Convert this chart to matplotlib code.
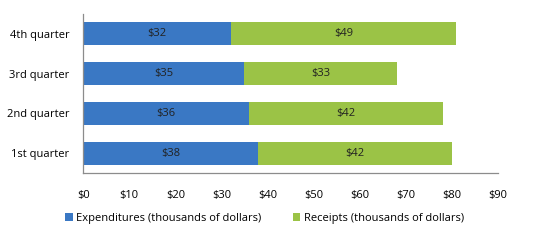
import matplotlib
matplotlib.use("Agg")
import matplotlib.pyplot as plt
import numpy as np

# === Data ===
quarters = ['1st quarter', '2nd quarter', '3rd quarter', '4th quarter']
expenditures = [38, 36, 35, 32]
receipts = [42, 42, 33, 49]
xticks = np.arange(0, 100, 10)

blue = '#3A78C4'
green = '#9BC346'

plt.rcParams['font.family'] = ['Open Sans', 'DejaVu Sans']
fs = 8

fig = plt.figure(figsize=(5.4, 2.4), dpi=100)
ax = fig.add_axes([0.154, 0.279, 0.768, 0.663])

y = np.arange(len(quarters))
b1 = ax.barh(y, expenditures, height=0.575, color=blue,
             label='Expenditures (thousands of dollars)')
b2 = ax.barh(y, receipts, left=expenditures, height=0.575, color=green,
             label='Receipts (thousands of dollars)')

# value labels in the middle of each segment
for bars in (b1, b2):
    ax.bar_label(bars, labels=[f'${v:g}' for v in bars.datavalues],
                 label_type='center', fontsize=fs, color='#222222')

ax.set_xlim(0, 90)
ax.set_ylim(-0.5, 3.5)
ax.set_xticks(xticks)
ax.set_xticklabels([f'${v}' for v in xticks], fontsize=fs)
ax.set_yticks(y)
ax.set_yticklabels(quarters, fontsize=fs)
ax.tick_params(axis='x', length=0, pad=12)
ax.tick_params(axis='y', length=0, pad=10)

for s in ['top', 'right']:
    ax.spines[s].set_visible(False)
for s in ['left', 'bottom']:
    ax.spines[s].set_color('#8c8c8c')
    ax.spines[s].set_linewidth(0.9)

fig.legend(handles=[b1, b2], loc='center', bbox_to_anchor=(0.49, 0.09),
           ncol=2, frameon=False, fontsize=fs, handlelength=0.7,
           handleheight=0.7, handletextpad=0.3, columnspacing=2.8)

fig.savefig('out.png', dpi=100)
